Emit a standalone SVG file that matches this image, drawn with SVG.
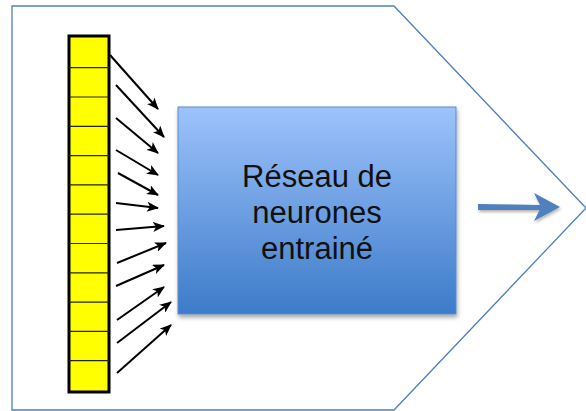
<svg xmlns="http://www.w3.org/2000/svg" width="586" height="411" viewBox="0 0 586 411">
<style>
.arr{stroke:#000;stroke-width:2;fill:none;marker-end:url(#ah)}
.lbl{font-family:"Liberation Sans",Arial,sans-serif;font-size:31px;fill:#111;text-anchor:middle}
</style>
<defs>
<marker id="ah" viewBox="0 0 12 10" refX="11" refY="5" markerWidth="12" markerHeight="10" markerUnits="userSpaceOnUse" orient="auto">
<path d="M0,0 L12,5 L0,10 L3,5 Z" fill="#000"/>
</marker>
<linearGradient id="g" x1="0" y1="0" x2="0" y2="1">
<stop offset="0" stop-color="#9dc3fb"/>
<stop offset="1" stop-color="#3d7bc9"/>
</linearGradient>
<filter id="sh" x="-10%" y="-10%" width="120%" height="120%">
<feDropShadow dx="1" dy="3" stdDeviation="2" flood-color="#000" flood-opacity="0.35"/>
</filter>
<filter id="sh2" x="-20%" y="-50%" width="140%" height="200%">
<feDropShadow dx="1" dy="2" stdDeviation="1.5" flood-color="#000" flood-opacity="0.3"/>
</filter>
</defs>
<g id="frame">
<polygon points="12,6 394,6 586,208 394,410 12,410" fill="#fff" stroke="#4f81bd" stroke-width="1.3"/>
</g>
<g id="vector">
<rect x="69" y="36" width="40" height="356" fill="#ffff00" stroke="#000" stroke-width="3"/>
<g stroke="#222" stroke-width="1.2">
<line x1="69" y1="67.7" x2="109" y2="67.7"/>
<line x1="69" y1="97" x2="109" y2="97"/>
<line x1="69" y1="126.3" x2="109" y2="126.3"/>
<line x1="69" y1="155.6" x2="109" y2="155.6"/>
<line x1="69" y1="184.9" x2="109" y2="184.9"/>
<line x1="69" y1="214.2" x2="109" y2="214.2"/>
<line x1="69" y1="243.5" x2="109" y2="243.5"/>
<line x1="69" y1="272.8" x2="109" y2="272.8"/>
<line x1="69" y1="302.1" x2="109" y2="302.1"/>
<line x1="69" y1="331.4" x2="109" y2="331.4"/>
<line x1="69" y1="360.7" x2="109" y2="360.7"/>
</g>
</g>
<g id="network">
<rect x="178" y="107" width="278" height="207" fill="url(#g)" stroke="#5b8bc8" stroke-width="1" filter="url(#sh)"/>
<text class="lbl" x="317" y="187">Réseau de</text>
<text class="lbl" x="317" y="223">neurones</text>
<text class="lbl" x="317" y="259">entrainé</text>
</g>
<g id="connectors">
<line class="arr" x1="110" y1="55" x2="158" y2="109"/>
<line class="arr" x1="116" y1="85" x2="164" y2="137"/>
<line class="arr" x1="116" y1="118" x2="158" y2="153"/>
<line class="arr" x1="116" y1="150" x2="158" y2="175"/>
<line class="arr" x1="118" y1="173" x2="158" y2="195"/>
<line class="arr" x1="116" y1="203" x2="158" y2="208"/>
<line class="arr" x1="116" y1="230" x2="164" y2="226"/>
<line class="arr" x1="117" y1="263" x2="166" y2="243"/>
<line class="arr" x1="116" y1="286" x2="164" y2="265"/>
<line class="arr" x1="117" y1="320" x2="164" y2="287"/>
<line class="arr" x1="117" y1="343" x2="171" y2="302"/>
<line class="arr" x1="117" y1="373" x2="171" y2="325"/>
<g filter="url(#sh2)" fill="#4f81bd">
<path d="M478,204 L541,205 L541,210 L478,210 Z"/>
<path d="M560,207 L534,193 L541,207 L534,221 Z"/>
</g>
</g>
</svg>
